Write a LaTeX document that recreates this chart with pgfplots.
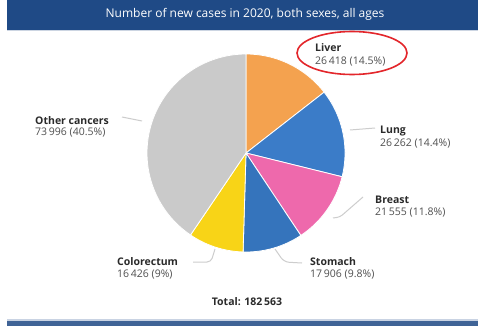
\documentclass[border=0pt]{standalone}
\usepackage{pgfplots}
\pgfplotsset{compat=1.18}
\usepackage{fontspec}
\setmainfont{Open Sans}
\definecolor{banner}{HTML}{1F4A86}
\definecolor{cliver}{HTML}{F4A24F}
\definecolor{clung}{HTML}{3B7CC8}
\definecolor{cbreast}{HTML}{EE69AC}
\definecolor{cstomach}{HTML}{3574BC}
\definecolor{ccolo}{HTML}{F8D417}
\definecolor{cother}{HTML}{CACACA}
\definecolor{lbl}{HTML}{2A2A2A}
\definecolor{num}{HTML}{505050}
\definecolor{lead}{HTML}{CDCDCD}
\definecolor{strip}{HTML}{CCD5E2}
\definecolor{strip2}{HTML}{C9D3E3}
\definecolor{band}{HTML}{3F6396}
\definecolor{ering}{HTML}{E3262B}
\begin{document}
\begin{tikzpicture}
% values in thousands
\pgfmathsetmacro\tot{26.418+26.262+21.555+17.906+16.426+73.996}
\pgfmathsetmacro\aA{90}
\pgfmathsetmacro\aB{\aA-360*(26.418/\tot)}
\pgfmathsetmacro\aC{\aB-360*(26.262/\tot)}
\pgfmathsetmacro\aD{\aC-360*(21.555/\tot)}
\pgfmathsetmacro\aE{\aD-360*(17.906/\tot)}
\pgfmathsetmacro\aF{\aE-360*(16.426/\tot)}
\pgfmathsetmacro\aG{\aF-360*(73.996/\tot)}
\newcommand\slice[3]{\addplot[fill=#3, draw=white, line width=0.8bp, domain=#2:#1, samples=60, variable=\t]
  ({246+99*cos(\t)},{153-99*sin(\t)}) -- (axis cs:246,153) -- cycle;}
\begin{axis}[scale only axis, width=478bp, height=326bp,
  xmin=0, xmax=478, ymin=0, ymax=326, y dir=reverse, hide axis, clip=false]
\fill[white] (axis cs:0,0) rectangle (axis cs:478,326);
\fill[banner] (axis cs:7,0) rectangle (axis cs:478,30);
\fill[strip] (axis cs:7,30) rectangle (axis cs:478,31.5);
\fill[strip2] (axis cs:7,318.5) rectangle (axis cs:478,321);
\fill[band] (axis cs:7,321) rectangle (axis cs:478,326);
\node[text=white, font=\fontsize{12bp}{14bp}\selectfont] at (axis cs:245,14) {Number of new cases in 2020, both sexes, all ages};
\slice{\aA}{\aB}{cliver}
\slice{\aB}{\aC}{clung}
\slice{\aC}{\aD}{cbreast}
\slice{\aD}{\aE}{cstomach}
\slice{\aE}{\aF}{ccolo}
\slice{\aF}{\aG}{cother}
% leader lines
\draw[lead, line width=1bp] (axis cs:122,117) -- (axis cs:142,121);
\draw[lead, line width=1bp] (axis cs:350,130) -- (axis cs:375,128);
\draw[lead, line width=1bp, rounded corners=3bp] (axis cs:333,218) -- (axis cs:340,217) -- (axis cs:363,197);
\draw[lead, line width=1bp, rounded corners=5bp] (axis cs:275,249) -- (axis cs:284,262) -- (axis cs:302,263);
\draw[lead, line width=1bp, rounded corners=4bp] (axis cs:215,249) -- (axis cs:211,262) -- (axis cs:193,262);
% labels
\tikzset{lb/.style={anchor=west, inner sep=0pt, text=lbl, font=\fontsize{10.5bp}{12bp}\selectfont\bfseries},
         nm/.style={anchor=west, inner sep=0pt, text=num, font=\fontsize{10.5bp}{12bp}\selectfont}}
\node[lb] at (axis cs:315,48) {Liver};
\node[nm] at (axis cs:315,62) {26\,418 (14.5\%)};
\node[lb] at (axis cs:380,131) {Lung};
\node[nm] at (axis cs:380,144) {26\,262 (14.4\%)};
\node[lb] at (axis cs:375,200) {Breast};
\node[nm] at (axis cs:375,213) {21\,555 (11.8\%)};
\node[lb] at (axis cs:310,262) {Stomach};
\node[nm] at (axis cs:310,275) {17\,906 (9.8\%)};
\node[lb] at (axis cs:117,262) {Colorectum};
\node[nm] at (axis cs:117,275) {16\,426 (9\%)};
\node[lb] at (axis cs:35,121) {Other cancers};
\node[nm] at (axis cs:35,133) {73\,996 (40.5\%)};
\node[anchor=center, inner sep=0pt, text=lbl, font=\fontsize{10.5bp}{12bp}\selectfont\bfseries] at (axis cs:247,302) {Total: 182\,563};
\draw[ering, line width=1.6bp] (axis cs:352,53) ellipse [x radius=55bp, y radius=21.5bp];
\end{axis}
\end{tikzpicture}
\end{document}
